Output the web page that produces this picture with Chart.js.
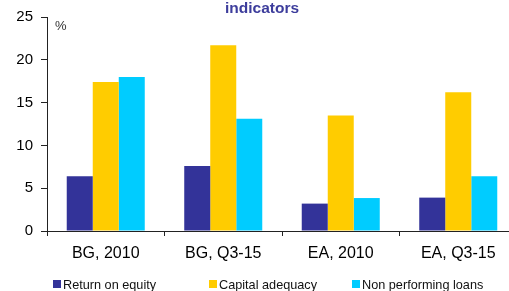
<!DOCTYPE html>
<html>
<head>
<meta charset="utf-8">
<script src="https://cdn.jsdelivr.net/npm/chart.js"></script>
<style>
  html, body { margin: 0; padding: 0; background: #fff; overflow: hidden; }
  #wrap { position: relative; width: 517px; height: 291px; }
</style>
</head>
<body>
<div id="wrap"><canvas id="chart"></canvas></div>
<script>
const categories = ['BG, 2010', 'BG, Q3-15', 'EA, 2010', 'EA, Q3-15'];
const seriesNames = ['Return on equity', 'Capital adequacy', 'Non performing loans'];
const returnOnEquity = [6.4, 7.6, 3.2, 3.9];
const capitalAdequacy = [17.4, 21.7, 13.5, 16.2];
const nonPerformingLoans = [18.0, 13.1, 3.85, 6.4];
const yTicks = [0, 5, 10, 15, 20, 25];
const colors = ['#333399', '#FFCC00', '#00CCFF'];

// title fragment, unit label and legend drawn by hand
const extras = {
  id: 'extras',
  afterDraw(chart) {
    const ctx = chart.ctx;
    ctx.save();
    ctx.fillStyle = '#3d3d9c';
    ctx.font = 'bold 15.5px "Liberation Sans", Arial, sans-serif';
    ctx.textAlign = 'center';
    ctx.textBaseline = 'alphabetic';
    ctx.fillText('indicators', 262, 13);

    ctx.fillStyle = '#333';
    ctx.font = '13px "Liberation Sans", Arial, sans-serif';
    ctx.textAlign = 'left';
    ctx.fillText('%', 55, 30);

    const legendX = [53, 209, 352];
    ctx.font = '12.7px "Liberation Sans", Arial, sans-serif';
    chart.data.datasets.forEach((ds, i) => {
      ctx.fillStyle = ds.backgroundColor;
      ctx.fillRect(legendX[i], 280, 8, 8);
      ctx.fillStyle = '#111';
      ctx.fillText(ds.label, legendX[i] + 10, 289);
    });
    ctx.restore();
  }
};

new Chart(document.getElementById('chart'), {
  type: 'bar',
  data: {
    labels: categories,
    datasets: [
      { label: seriesNames[0], data: returnOnEquity, backgroundColor: colors[0] },
      { label: seriesNames[1], data: capitalAdequacy, backgroundColor: colors[1] },
      { label: seriesNames[2], data: nonPerformingLoans, backgroundColor: colors[2] }
    ]
  },
  options: {
    responsive: true,
    maintainAspectRatio: false,
    animation: false,
    layout: { padding: { top: 17, right: 0, bottom: 0, left: 0 } },
    datasets: { bar: { categoryPercentage: 0.664, barPercentage: 1.0 } },
    plugins: { legend: { display: false }, tooltip: { enabled: false } },
    scales: {
      x: {
        grid: { display: true, drawOnChartArea: false, offset: true, tickLength: 5, color: '#222' },
        border: { color: '#222', width: 1 },
        ticks: { color: '#000', padding: 8, font: { size: 16, family: '"Liberation Sans", Arial, sans-serif' } },
        afterFit(scale) { scale.height = 60; }
      },
      y: {
        min: 0,
        max: 25,
        afterBuildTicks(scale) { scale.ticks = yTicks.map(v => ({ value: v })); },
        grid: { display: true, drawOnChartArea: false, tickLength: 6, color: '#222' },
        border: { color: '#222', width: 1 },
        ticks: { color: '#000', padding: 8, font: { size: 15, family: '"Liberation Sans", Arial, sans-serif' } },
        afterFit(scale) { scale.width = 47; }
      }
    }
  },
  plugins: [extras]
});
</script>
</body>
</html>
